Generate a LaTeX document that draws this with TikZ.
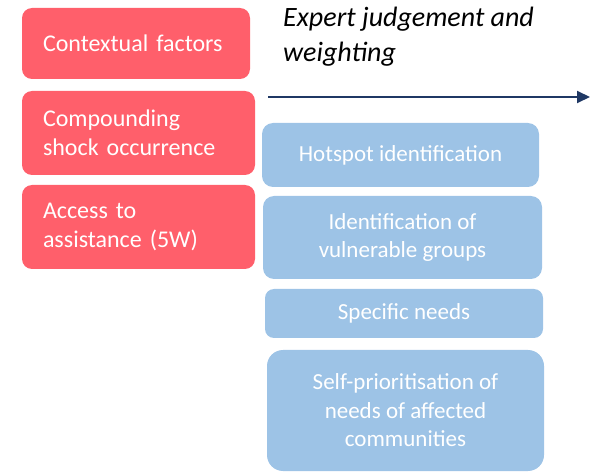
\documentclass[tikz,border=0pt]{standalone}
\usepackage{fontspec}
\setmainfont{Carlito}
\usetikzlibrary{arrows.meta}
\definecolor{factorred}{HTML}{FF5F6B}
\definecolor{stepblue}{HTML}{9DC3E6}
\definecolor{navy}{HTML}{1F3864}
\begin{document}
\begin{tikzpicture}[x=1pt,y=-1pt,
  factor/.style={fill=factorred,draw=none,rounded corners=10pt,text=white,
    inner xsep=21pt,inner ysep=0pt,align=left,
    font=\fontsize{24}{29}\selectfont},
  stage/.style={fill=stepblue,draw=none,rounded corners=11pt,text=white,
    inner sep=0pt,align=center,
    font=\fontsize{23}{28.5}\selectfont},
  flow/.style={draw=navy,line width=2pt,-{Triangle[length=13pt,width=12pt]}}]
\useasboundingbox (0,0) rectangle (590,476);
% factor boxes on the left
\node[factor,text width=186pt,minimum height=71pt] (r1) at (136,43.5) {\raisebox{-2pt}{Contextual factors}};
\node[factor,text width=191pt,minimum height=84pt] (r2) at (138.5,133) {Compounding\\shock occurrence};
\node[factor,text width=191pt,minimum height=84pt] (r3) at (138.5,227) {Access to\\assistance (5W)};
% heading and direction arrow
\node[anchor=north west,inner sep=0pt,align=left,
  font=\fontsize{28}{35}\selectfont\itshape] (head) at (283,7) {Expert judgement and\\weighting};
\coordinate (a0) at (268,97);
\coordinate (a1) at (590,97);
\draw[flow] (a0) -- (a1);
% analysis stages
\node[stage,minimum width=277pt,minimum height=64pt] (b1) at (400.5,155) {Hotspot identification};
\node[stage,minimum width=279pt,minimum height=83pt] (b2) at (402.5,237.5) {Identification of\\vulnerable groups};
\node[stage,minimum width=278pt,minimum height=49pt,rounded corners=9pt] (b3) at (404,313.5) {Specific needs};
\node[stage,minimum width=277pt,minimum height=121pt,rounded corners=16pt] (b4) at (405.5,410.5) {Self-prioritisation of\\needs of affected\\communities};
\end{tikzpicture}
\end{document}
